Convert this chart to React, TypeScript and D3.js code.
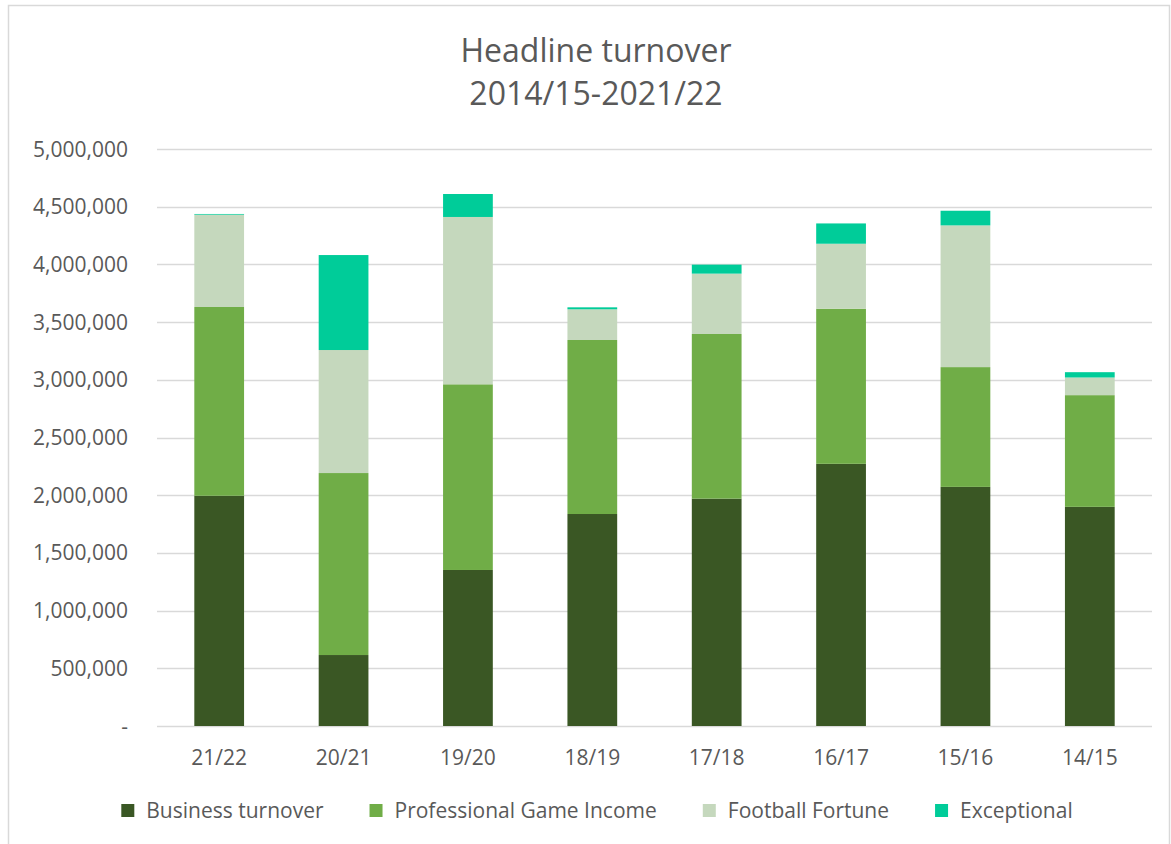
import React, { useEffect, useRef } from 'react';
import * as d3 from 'd3';

const seasons = ['21/22', '20/21', '19/20', '18/19', '17/18', '16/17', '15/16', '14/15'];
const businessTurnover = [1995000, 615000, 1352000, 1837000, 1970000, 2272000, 2072000, 1899000];
const professionalGameIncome = [1636000, 1577000, 1609000, 1508000, 1427000, 1344000, 1038000, 968000];
const footballFortune = [800000, 1066000, 1450000, 266000, 523000, 563000, 1228000, 153000];
const exceptional = [6000, 823000, 199000, 17000, 78000, 176000, 127000, 46000];
const seriesNames = ['Business turnover', 'Professional Game Income', 'Football Fortune', 'Exceptional'];
const seriesColors = ['#3a5724', '#70ad47', '#c5d8bd', '#00cc99'];
const yTicks = [0, 500000, 1000000, 1500000, 2000000, 2500000, 3000000, 3500000, 4000000, 4500000, 5000000];

const W = 1171;
const H = 844;
const FONT = '"Open Sans", sans-serif';
const TEXT = '#595959';

const App: React.FC = () => {
  const ref = useRef<SVGSVGElement>(null);

  useEffect(() => {
    if (!ref.current) return;
    const svg = d3.select(ref.current);
    svg.selectAll('*').remove();

    const left = 157, right = 1152, top = 149, bottom = 726;

    // chart border
    svg.append('rect')
      .attr('x', 8.5).attr('y', 5.5)
      .attr('width', 1161).attr('height', 850)
      .attr('fill', 'white').attr('stroke', '#d9d9d9').attr('stroke-width', 1.5);

    // title
    const title = svg.append('text')
      .attr('text-anchor', 'middle')
      .attr('font-family', FONT).attr('font-size', 32).attr('fill', TEXT);
    title.append('tspan').attr('x', 596).attr('y', 62).text('Headline turnover');
    title.append('tspan').attr('x', 596).attr('y', 105).text('2014/15-2021/22');

    const x = d3.scaleBand<string>().domain(seasons).range([left, right])
      .paddingInner(0.6).paddingOuter(0.3);
    const y = d3.scaleLinear().domain([0, 5000000]).range([bottom, top]);

    // gridlines
    svg.append('g').selectAll('line').data(yTicks).enter().append('line')
      .attr('x1', left).attr('x2', right)
      .attr('y1', d => Math.round(y(d)) + 0.5).attr('y2', d => Math.round(y(d)) + 0.5)
      .attr('stroke', '#d9d9d9').attr('stroke-width', 1.5);

    // y labels
    svg.append('g').selectAll('text').data(yTicks).enter().append('text')
      .attr('x', 128).attr('y', d => y(d)).attr('dy', '0.36em')
      .attr('text-anchor', 'end')
      .attr('font-family', FONT).attr('font-size', 21).attr('fill', TEXT)
      .text(d => (d === 0 ? '-' : d3.format(',')(d)));

    // stacked bars
    const rows = seasons.map((s, i) => ({
      season: s,
      s0: businessTurnover[i],
      s1: professionalGameIncome[i],
      s2: footballFortune[i],
      s3: exceptional[i],
    }));
    const stack = d3.stack<any>().keys(['s0', 's1', 's2', 's3']);
    const layers = stack(rows);

    svg.append('g').selectAll('g').data(layers).enter().append('g')
      .attr('fill', (_d, i) => seriesColors[i])
      .selectAll('rect').data(d => d).enter().append('rect')
      .attr('x', d => x(d.data.season) as number)
      .attr('width', x.bandwidth())
      .attr('y', d => y(d[1]))
      .attr('height', d => y(d[0]) - y(d[1]));

    // x labels
    svg.append('g').selectAll('text').data(seasons).enter().append('text')
      .attr('x', d => (x(d) as number) + x.bandwidth() / 2)
      .attr('y', 765)
      .attr('text-anchor', 'middle')
      .attr('font-family', FONT).attr('font-size', 21).attr('fill', TEXT)
      .text(d => d);

    // legend
    const legend = svg.append('g');
    const items = seriesNames.map((name, i) => {
      const g = legend.append('g');
      g.append('rect').attr('x', 0).attr('y', 804).attr('width', 13).attr('height', 13)
        .attr('fill', seriesColors[i]);
      const t = g.append('text').attr('x', 25).attr('y', 818)
        .attr('font-family', FONT).attr('font-size', 21).attr('fill', TEXT).text(name);
      const w = 25 + (t.node() as SVGTextElement).getComputedTextLength();
      return { g, w };
    });
    const gap = 46;
    const total = d3.sum(items, d => d.w) + gap * (items.length - 1);
    let cx = 597 - total / 2;
    items.forEach(it => {
      it.g.attr('transform', `translate(${cx},0)`);
      cx += it.w + gap;
    });
  }, []);

  return (
    <svg
      ref={ref}
      width={W}
      height={H}
      style={{ position: 'absolute', left: 0, top: 0, background: 'white' }}
    />
  );
};

export default App;
